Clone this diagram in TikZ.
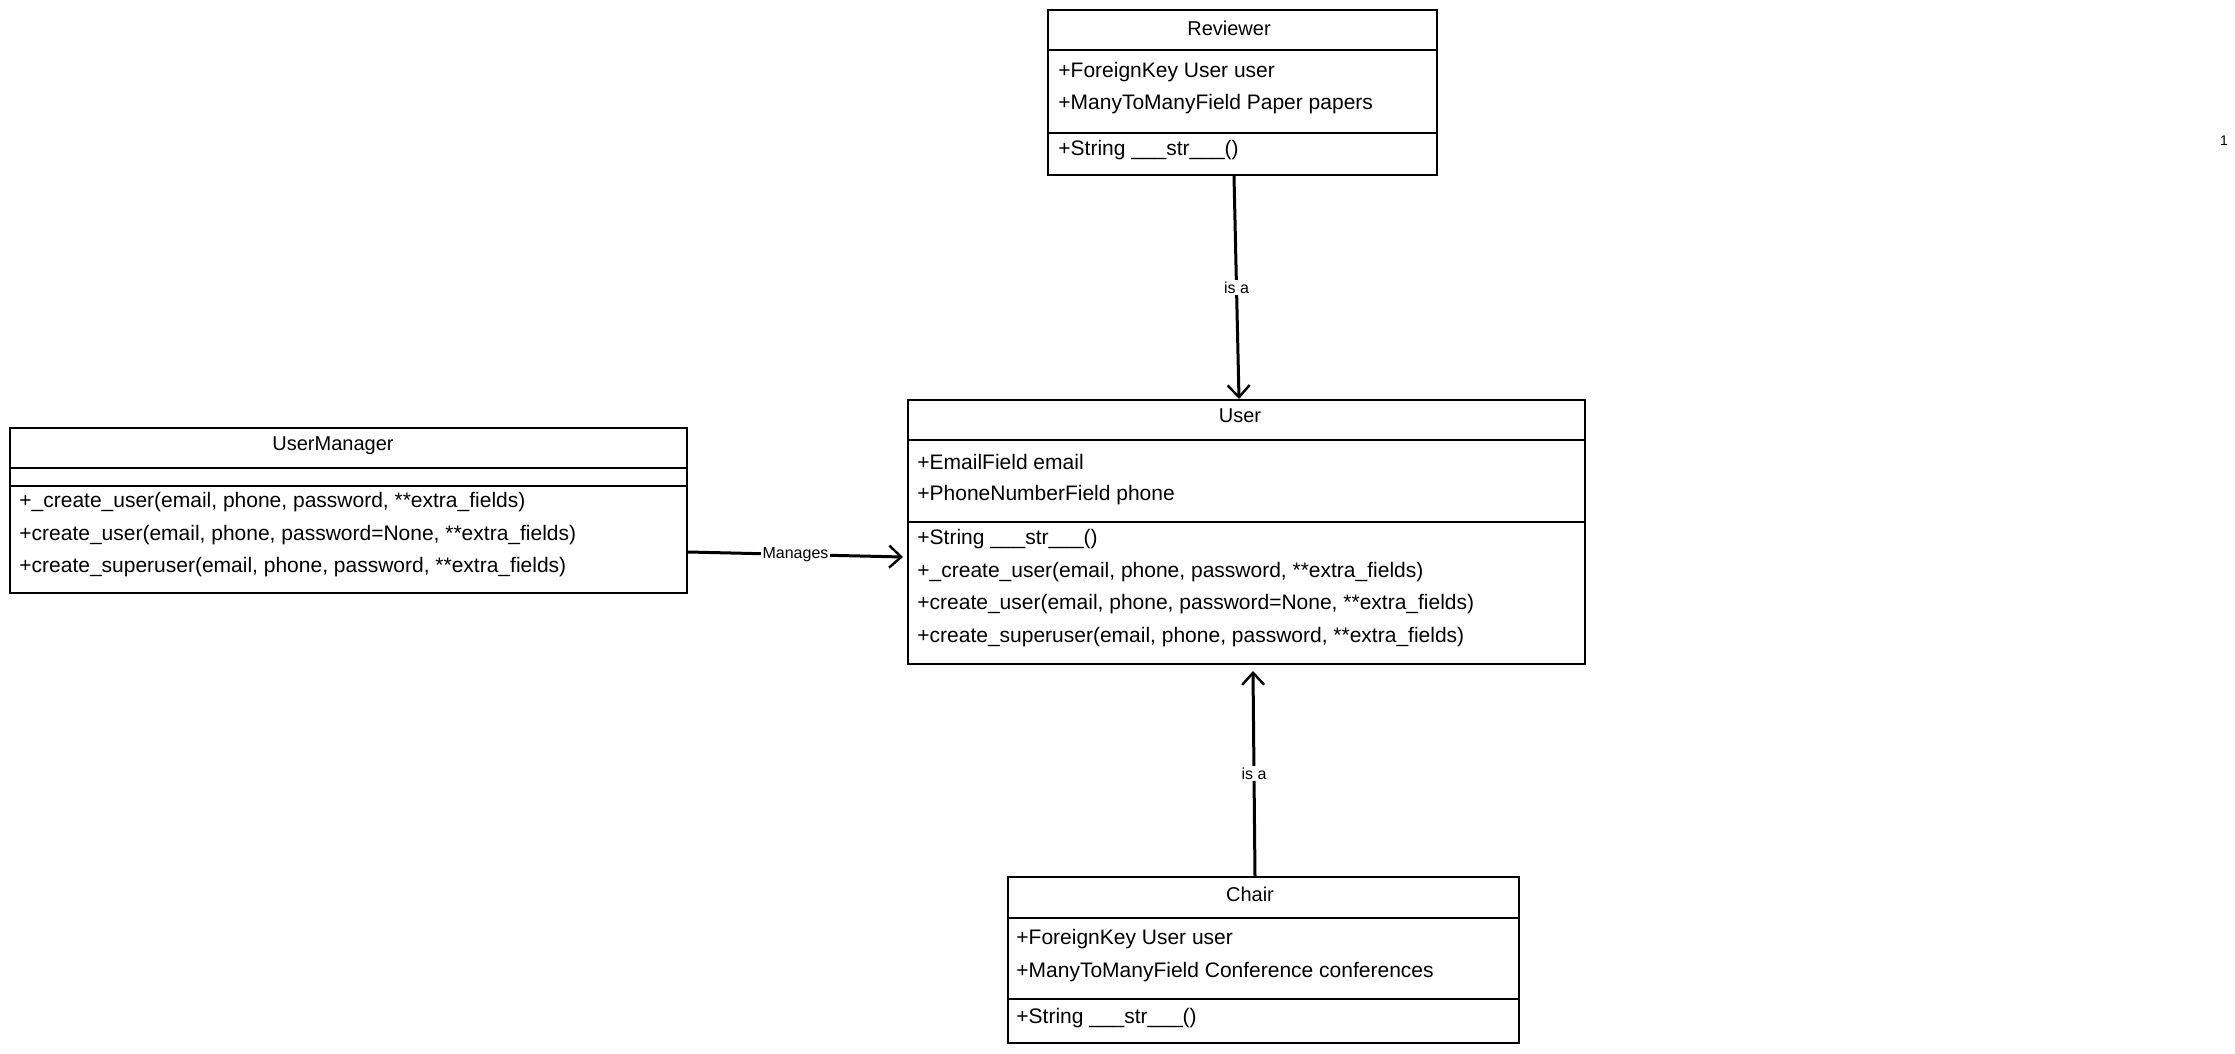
\documentclass[tikz,border=0pt]{standalone}
\usepackage{fontspec}
\setmainfont{Liberation Sans}
\usetikzlibrary{arrows.meta}
\begin{document}
\begin{tikzpicture}[x=0.5pt,y=-0.5pt,
        classbox/.style={draw,line width=1pt,inner sep=0pt},
        member/.style={anchor=west,inner sep=0pt,font=\fontsize{10.5}{12}\selectfont},
        classname/.style={inner sep=0pt,font=\fontsize{10}{12}\selectfont},
        link/.style={line width=1.5pt,-{Straight Barb[length=6pt,width=11pt,line width=1.2pt]}},
        linktag/.style={fill=white,inner sep=1pt,font=\fontsize{8}{10}\selectfont}]
    \useasboundingbox (0,0) rectangle (2235,1054);

    \node[classbox,minimum width=194.5pt,minimum height=82.5pt] (reviewer) at (1242.5,92.5) {};
    \draw[line width=1pt] (reviewer.west |- 0,50) -- (reviewer.east |- 0,50);
    \draw[line width=0.7pt] (reviewer.west |- 0,133) -- (reviewer.east |- 0,133);
    \node[classname] (reviewername) at (1229,28) {Reviewer};
    \node[member] (reviewerf1) at (1058,72) {+ForeignKey User user};
    \node[member] (reviewerf2) at (1058,104) {+ManyToManyField Paper papers};
    \node[member] (reviewerm1) at (1058,150) {+String \_\_\_str\_\_\_()};

    \node[classbox,minimum width=338.5pt,minimum height=82.5pt] (manager) at (348.5,510.5) {};
    \draw[line width=1pt] (manager.west |- 0,468) -- (manager.east |- 0,468);
    \draw[line width=0.7pt] (manager.west |- 0,486) -- (manager.east |- 0,486);
    \node[classname] (managername) at (333,446) {UserManager};
    \node[member] (managerm1) at (19,502) {+\_create\_user(email, phone, password, **extra\_fields)};
    \node[member] (managerm2) at (19,535) {+create\_user(email, phone, password=None, **extra\_fields)};
    \node[member] (managerm3) at (19,567) {+create\_superuser(email, phone, password, **extra\_fields)};

    \node[classbox,minimum width=338.5pt,minimum height=132pt] (user) at (1246.5,532) {};
    \draw[line width=1pt] (user.west |- 0,440) -- (user.east |- 0,440);
    \draw[line width=0.7pt] (user.west |- 0,522) -- (user.east |- 0,522);
    \node[classname] (username) at (1240,416) {User};
    \node[member] (userf1) at (917,462) {+EmailField email};
    \node[member] (userf2) at (917,495) {+PhoneNumberField phone};
    \node[member] (userm1) at (917,539) {+String \_\_\_str\_\_\_()};
    \node[member] (userm2) at (917,572) {+\_create\_user(email, phone, password, **extra\_fields)};
    \node[member] (userm3) at (917,604) {+create\_user(email, phone, password=None, **extra\_fields)};
    \node[member] (userm4) at (917,637) {+create\_superuser(email, phone, password, **extra\_fields)};

    \node[classbox,minimum width=255.5pt,minimum height=83pt] (chair) at (1263.5,960) {};
    \draw[line width=1pt] (chair.west |- 0,918) -- (chair.east |- 0,918);
    \draw[line width=0.7pt] (chair.west |- 0,999) -- (chair.east |- 0,999);
    \node[classname] (chairname) at (1250,894) {Chair};
    \node[member] (chairf1) at (1016,939) {+ForeignKey User user};
    \node[member] (chairf2) at (1016,972) {+ManyToManyField Conference conferences};
    \node[member] (chairm1) at (1016,1018) {+String \_\_\_str\_\_\_()};

    \node[font=\fontsize{7}{8}\selectfont] (mult) at (2224,141) {1};

    \draw[link] ([xshift=-4.25pt]reviewer.south) -- ([xshift=-3.75pt]user.north) node[linktag,midway] {is a};
    \draw[link] ([xshift=-4.25pt]chair.north) -- ([xshift=3.25pt,yshift=-3pt]user.south) node[linktag,midway] {is a};
    \draw[link] ([yshift=-20.75pt]manager.east) -- ([xshift=-2pt,yshift=-12.5pt]user.west) node[linktag,midway] {Manages};
\end{tikzpicture}
\end{document}
